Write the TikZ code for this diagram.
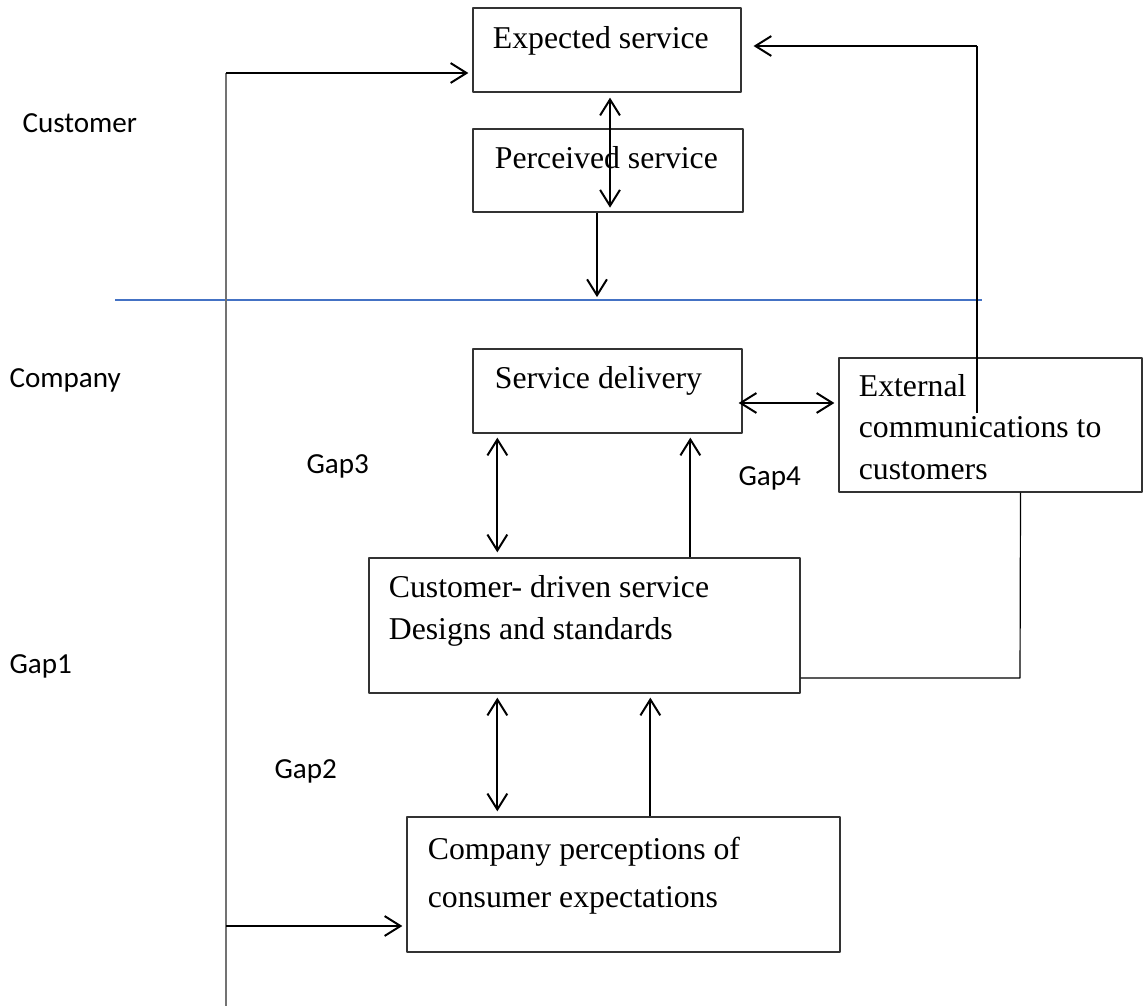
\documentclass[tikz,border=0pt]{standalone}
\usepackage{fontspec}
\setmainfont{Liberation Serif}
\newfontfamily\gapfont{Carlito}
\usetikzlibrary{arrows.meta,calc,fit}
\definecolor{lineblue}{RGB}{68,114,196}

\begin{document}
\begin{tikzpicture}[x=0.378pt,y=-0.378pt,>={Straight Barb[length=6pt,width=7.5pt]},line join=round]
	\tikzset{box/.style={draw=black!80,line width=0.5pt,inner sep=0pt},
		boxtext/.style={anchor=base west,inner sep=0pt,align=left,font=\fontsize{12}{15.7}\selectfont},
		gap/.style={anchor=base west,inner sep=0pt,font=\gapfont\fontsize{11}{13}\selectfont},
		arr/.style={->,line width=0.75pt},
		darr/.style={<->,line width=0.75pt},
		fine/.style={line width=0.45pt}}
	\useasboundingbox (0,0) rectangle (1144,1006);
	
	% --- Hộp ---
	\node[box,fit={(473,8) (741,92)}] (exp) {};
	\node[box,fit={(473,129) (743,212)}] (perc) {};
	\node[box,fit={(473,349) (742,433)}] (sd) {};
	\node[box,fit={(839,358) (1142,492)}] (ext) {};
	\node[box,fit={(369,558) (800,693)}] (cd) {};
	\node[box,fit={(407,817) (840,952)}] (cp) {};
	
	% nhiều dòng: đặt theo đường cơ sở của dòng cuối
	\node[boxtext] (exptxt) at ($(exp.north west)+(20,41)$) {Expected service};
	\node[boxtext] (perctxt) at ($(perc.north west)+(22,40)$) {Perceived service};
	\node[boxtext] (sdtxt) at ($(sd.north west)+(22,40)$) {Service delivery};
	\node[boxtext] (exttxt) at ($(ext.north west)+(20,122)$) {External\\communications to\\customers};
	\node[boxtext] (cdtxt) at ($(cd.north west)+(20,82)$) {Customer- driven service\\Designs and standards};
	\node[boxtext,font=\fontsize{12}{18.2}\selectfont] (cptxt) at ($(cp.north west)+(21,91)$) {Company perceptions of\\consumer expectations};
	
	% --- Nhãn ---
	\node[gap] (cust) at (22,133) {Customer};
	\node[gap] (comp) at (9,387) {Company};
	\node[gap] (gap1) at (9,673) {Gap1};
	\node[gap] (gap2) at (274,778) {Gap2};
	\node[gap] (gap3) at (306,473) {Gap3};
	\node[gap] (gap4) at (738,485) {Gap4};
	
	% --- Đường phân cách ---
	\coordinate (sepl) at (115,300);
	\coordinate (sepr) at (982,300);
	\draw[lineblue,line width=0.75pt] (sepl) -- (sepr);
	
	% --- Vòng trái ---
	\coordinate (ltop) at (226,73);
	\coordinate (lcp) at (226,926);
	\coordinate (lbot) at (226,1006);
	\draw[fine,black!55] (lbot) -- (ltop);
	\draw[arr,shorten >=1.5pt] (ltop) -- (ltop -| exp.west);
	\draw[arr,shorten >=1.5pt] (lcp) -- (lcp -| cp.west);
	
	% --- Vòng phải ---
	\coordinate (rtop) at (977,46);
	\coordinate (rbot) at (977,413);
	\draw[fine] (rbot) -- (rtop);
	\draw[arr,shorten >=4.5pt] (rtop) -- (rtop -| exp.east);
	\coordinate (ecb) at (1020,678);
	\draw[fine] ($(ext.south)+(30,0)$) -- (ecb) -- (ecb -| cd.east);
	
	% --- Mũi tên ---
	\draw[darr,shorten >=1.9pt] ($(exp.south)+(3,5)$) coordinate (ep) -- (ep |- perc.south);
	\draw[arr,shorten >=1.1pt] ($(perc.south)+(-11,0)$) coordinate (pd) -- (pd |- sepl);
	\draw[darr,shorten >=1.5pt] ($(sd.east)+(-4,12)$) coordinate (se) -- (se -| ext.west);
	\draw[darr,shorten >=1.9pt] ($(sd.south west)+(25,4)$) coordinate (g3) -- (g3 |- cd.north);
	\draw[arr,shorten >=1.5pt] ($(cd.north west)+(322,0)$) coordinate (g4) -- (g4 |- sd.south);
	\draw[darr,shorten >=1.9pt] ($(cd.south west)+(129,4)$) coordinate (g2) -- (g2 |- cp.north);
	\draw[arr,shorten >=1.5pt] ($(cp.north west)+(244,0)$) coordinate (g2b) -- (g2b |- cd.south);
\end{tikzpicture}
\end{document}
